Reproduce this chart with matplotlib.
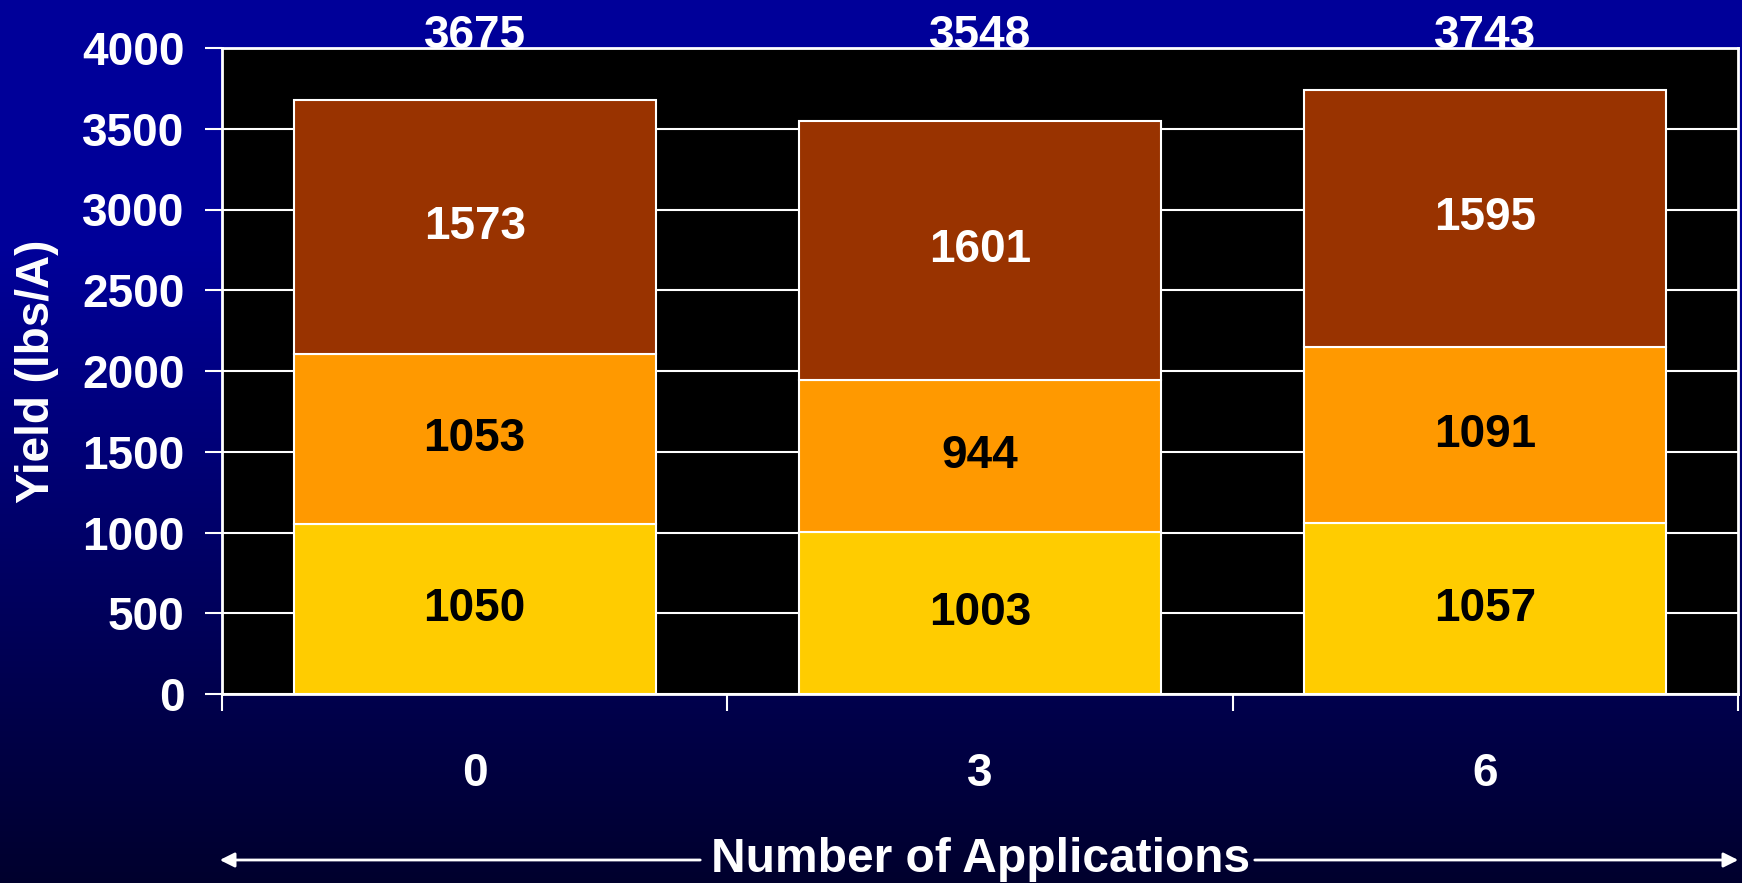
import numpy as np
import matplotlib
matplotlib.use("Agg")
import matplotlib.pyplot as plt

categories = ["0", "3", "6"]
bottom_vals = [1050, 1003, 1057]
middle_vals = [1053, 944, 1091]
top_vals = [1573, 1601, 1595]
totals = [3675, 3548, 3743]
y_ticks = [0, 500, 1000, 1500, 2000, 2500, 3000, 3500, 4000]

plt.rcParams['font.family'] = ['Liberation Sans', 'DejaVu Sans']
plt.rcParams['font.weight'] = 'bold'

W, H = 1742, 883
fig = plt.figure(figsize=(W / 100, H / 100), dpi=100)

# background gradient
bg = fig.add_axes([0, 0, 1, 1], zorder=-10)
rows = np.arange(H)
vals = np.where(rows < 250, 153, 153 - 108 * (rows - 250) / (H - 250))
img = np.zeros((H, 1, 3))
img[:, 0, 2] = vals / 255.0
bg.imshow(img, aspect='auto', extent=[0, 1, 0, 1], origin='upper')
bg.set_axis_off()

ax = fig.add_axes([222 / W, 1 - 694 / H, (1738 - 222) / W, (694 - 48) / H])
ax.set_facecolor('black')

x = np.arange(len(categories))
bw = 0.717
c_bot, c_mid, c_top = '#FFCC00', '#FF9900', '#993300'
ax.bar(x, bottom_vals, bw, color=c_bot, edgecolor='white', linewidth=1.5, zorder=3)
mid_base = np.array(bottom_vals)
ax.bar(x, middle_vals, bw, bottom=mid_base, color=c_mid, edgecolor='white', linewidth=1.5, zorder=3)
top_base = mid_base + np.array(middle_vals)
ax.bar(x, top_vals, bw, bottom=top_base, color=c_top, edgecolor='white', linewidth=1.5, zorder=3)

fs = 33
for i in range(len(categories)):
    ax.text(x[i], bottom_vals[i] / 2, str(bottom_vals[i]), ha='center', va='center',
            color='black', fontsize=fs, fontweight='bold', zorder=5)
    ax.text(x[i], mid_base[i] + middle_vals[i] / 2, str(middle_vals[i]), ha='center', va='center',
            color='black', fontsize=fs, fontweight='bold', zorder=5)
    ax.text(x[i], top_base[i] + top_vals[i] / 2, str(top_vals[i]), ha='center', va='center',
            color='white', fontsize=fs, fontweight='bold', zorder=5)
    ax.text(x[i], 4000, str(totals[i]), ha='center', va='baseline',
            color='white', fontsize=fs, fontweight='bold', zorder=5, clip_on=False)

ax.set_xlim(-0.5, 2.5)
ax.set_ylim(0, 4000)
ax.set_yticks(y_ticks)
ax.set_yticklabels([str(v) for v in y_ticks])
ax.yaxis.grid(True, color='white', linewidth=1.5, zorder=0)
ax.set_axisbelow(True)

ax.set_xticks([-0.5, 0.5, 1.5, 2.5])
ax.set_xticklabels([])
ax.set_xticks(x, categories, minor=True)
ax.tick_params(axis='x', which='major', length=12, width=1.5, color='white', direction='out')
ax.tick_params(axis='x', which='minor', length=0, pad=42, labelsize=fs, labelcolor='white')
ax.tick_params(axis='y', length=12, width=1.5, color='white', direction='out', pad=15,
               labelsize=fs, labelcolor='white')
for lab in ax.get_yticklabels() + ax.get_xticklabels(minor=True):
    lab.set_fontweight('bold')

for s in ax.spines.values():
    s.set_color('white')
    s.set_linewidth(2)

ax.set_ylabel('Yield (lbs/A)', color='white', fontsize=fs, fontweight='bold')
ax.yaxis.label.set_va('center')
ax.yaxis.set_label_coords(-(222 - 37) / (1738 - 222), 0.5)

# x-axis title with arrows
fig.text(981 / W, 1 - 859 / H, 'Number of Applications', ha='center', va='center',
         color='white', fontsize=34.5, fontweight='bold')
yl = 1 - 860 / H
fig.add_artist(matplotlib.patches.FancyArrowPatch((703 / W, yl), (217 / W, yl),
               transform=fig.transFigure, arrowstyle='-|>', mutation_scale=22,
               color='white', linewidth=2))
fig.add_artist(matplotlib.patches.FancyArrowPatch((1252 / W, yl), (1741 / W, yl),
               transform=fig.transFigure, arrowstyle='-|>', mutation_scale=22,
               color='white', linewidth=2))

fig.savefig('out.png', dpi=100)
